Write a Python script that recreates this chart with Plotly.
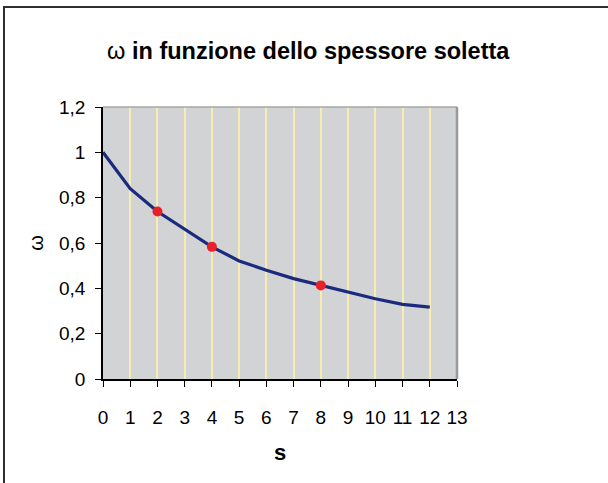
import plotly.graph_objects as go

# Spessore soletta (s) e coefficiente omega corrispondente
s_values = [0, 1, 2, 3, 4, 5, 6, 7, 8, 9, 10, 11, 12]
omega_values = [1.0, 0.840, 0.739, 0.659, 0.583, 0.521, 0.480, 0.443, 0.413, 0.383, 0.354, 0.329, 0.317]

# Punti evidenziati
s_marked = [2, 4, 8]
omega_marked = [0.739, 0.583, 0.413]

x_ticks = list(range(0, 14))
y_tickvals = [0, 0.2, 0.4, 0.6, 0.8, 1.0, 1.2]
y_ticktext = ["0", "0,2", "0,4", "0,6", "0,8", "1", "1,2"]

FONT = "Liberation Sans, Arial, sans-serif"

fig = go.Figure()
fig.add_trace(go.Scatter(
    x=s_values, y=omega_values, mode="lines",
    line=dict(color="#1B2A7E", width=3.2),
    hoverinfo="x+y", showlegend=False,
))
fig.add_trace(go.Scatter(
    x=s_marked, y=omega_marked, mode="markers",
    marker=dict(color="#E8202A", size=10, line=dict(width=0)),
    showlegend=False,
))

fig.update_layout(
    width=608, height=483,
    margin=dict(l=103, r=151, t=107, b=104),
    paper_bgcolor="white",
    plot_bgcolor="#D1D3D4",
    font=dict(family=FONT, color="black", size=19),
    title=dict(
        text="ω <b>in funzione dello spessore soletta</b>",
        font=dict(size=23.5, family=FONT, color="black"),
        x=0.507, xanchor="center", y=0.895, yanchor="middle",
    ),
    xaxis=dict(
        range=[0, 13], tickvals=x_ticks, ticktext=[str(v) for v in x_ticks],
        showgrid=True, gridcolor="#F7EDB0", gridwidth=1.6,
        zeroline=False, showline=True, linecolor="black", linewidth=1.5,
        ticks="outside", ticklen=6, tickcolor="black", tickwidth=1,
        ticklabelstandoff=14,
        tickfont=dict(size=19),
        title=dict(text="<b>s</b>", font=dict(size=22), standoff=18),
    ),
    yaxis=dict(
        range=[0, 1.2], tickvals=y_tickvals, ticktext=y_ticktext,
        showgrid=False, zeroline=False,
        showline=True, linecolor="black", linewidth=1.5,
        ticks="outside", ticklen=6, tickcolor="black", tickwidth=1,
        ticklabelstandoff=6,
        tickfont=dict(size=19),
        title=dict(text="ω", font=dict(size=20), standoff=10),
    ),
    shapes=[
        # cornice grigia dell'area del grafico (lati superiore e destro)
        dict(type="line", xref="paper", yref="paper", x0=0, x1=1, y0=1, y1=1,
             line=dict(color="#A6A6A6", width=1.5)),
        dict(type="line", xref="paper", yref="paper", x0=1, x1=1, y0=0, y1=1,
             line=dict(color="#9A9A9A", width=2.5)),
        # bordo esterno del grafico
        dict(type="rect", xref="paper", yref="paper",
             x0=-0.2797, x1=1.44, y0=-0.40, y1=1.3676,
             line=dict(color="#2E2E2E", width=2)),
    ],
)

fig.write_html("out.html")
